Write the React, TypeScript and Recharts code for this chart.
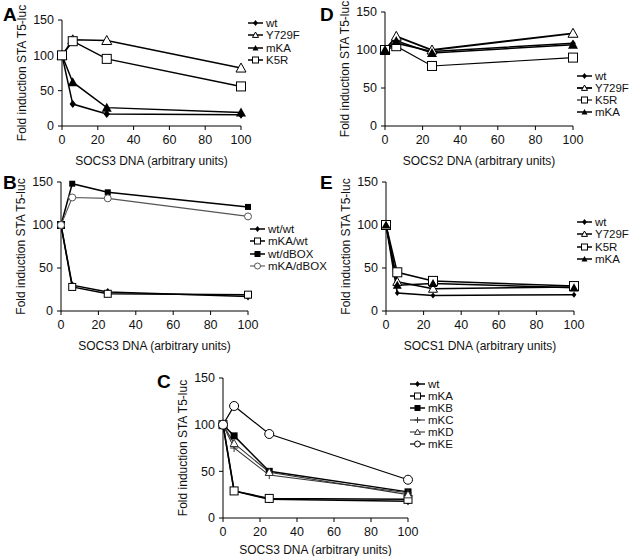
import React from 'react'
import { Line, LineChart, XAxis, YAxis } from 'recharts'

const doses = [0, 6, 25, 100]
const xTicks = [0, 20, 40, 60, 80, 100]
const yTicks = [0, 50, 100, 150]
const yTitle = 'Fold induction STA T5-luc'

// panel A: SOCS3
const aNames = ['wt', 'Y729F', 'mKA', 'K5R']
const aWt = [100, 31, 17, 16]
const aY729F = [100, 122, 121, 82]
const aMKA = [100, 62, 26, 19]
const aK5R = [100, 120, 95, 56]

// panel B: SOCS3, receptor mutants
const bNames = ['wt/wt', 'mKA/wt', 'wt/dBOX', 'mKA/dBOX']
const bWtWt = [100, 30, 22, 17]
const bMKAWt = [100, 28, 20, 19]
const bWtDbox = [100, 148, 138, 121]
const bMKADbox = [100, 132, 131, 110]

// panel C: SOCS3, lysine mutants
const cNames = ['wt', 'mKA', 'mKB', 'mKC', 'mKD', 'mKE']
const cWt = [100, 29, 20, 18]
const cMKA = [100, 29, 21, 20]
const cMKB = [100, 88, 50, 28]
const cMKC = [100, 75, 46, 27]
const cMKD = [100, 80, 49, 25]
const cMKE = [100, 120, 90, 41]

// panel D: SOCS2
const dNames = ['wt', 'Y729F', 'K5R', 'mKA']
const dWt = [100, 109, 98, 109]
const dY729F = [100, 118, 100, 122]
const dK5R = [100, 105, 79, 90]
const dMKA = [100, 112, 96, 107]

// panel E: SOCS1
const eNames = ['wt', 'Y729F', 'K5R', 'mKA']
const eWt = [100, 21, 18, 19]
const eY729F = [100, 34, 26, 28]
const eK5R = [100, 45, 35, 29]
const eMKA = [100, 30, 32, 27]

type Shape = 'diamond' | 'triOpen' | 'triFilled' | 'sqOpen' | 'sqFilled' | 'circOpen' | 'plus'

interface Series {
  name: string
  values: number[]
  shape: Shape
  size?: number
  color?: string
  width?: number
}

function Marker({ cx, cy, shape, size = 4, color = '#000' }: { cx: number; cy: number; shape: Shape; size?: number; color?: string }) {
  const s = size
  switch (shape) {
    case 'diamond':
      return <path d={`M${cx},${cy - s} L${cx + s * 0.8},${cy} L${cx},${cy + s} L${cx - s * 0.8},${cy} Z`} fill={color} />
    case 'triOpen':
      return <path d={`M${cx},${cy - s} L${cx + s},${cy + s * 0.8} L${cx - s},${cy + s * 0.8} Z`} fill="#fff" stroke={color} strokeWidth={1} />
    case 'triFilled':
      return <path d={`M${cx},${cy - s} L${cx + s},${cy + s * 0.8} L${cx - s},${cy + s * 0.8} Z`} fill={color} />
    case 'sqOpen':
      return <rect x={cx - s} y={cy - s} width={s * 2} height={s * 2} fill="#fff" stroke={color} strokeWidth={1} />
    case 'sqFilled':
      return <rect x={cx - s} y={cy - s} width={s * 2} height={s * 2} fill={color} />
    case 'circOpen':
      return <circle cx={cx} cy={cy} r={s} fill="#fff" stroke={color} strokeWidth={1} />
    case 'plus':
      return (
        <g stroke={color} strokeWidth={1}>
          <line x1={cx - s} y1={cy} x2={cx + s} y2={cy} />
          <line x1={cx} y1={cy - s} x2={cx} y2={cy + s} />
        </g>
      )
  }
  return null
}

interface PanelProps {
  letter: string
  xTitle: string
  series: Series[]
  plotLeft: number
  plotTop: number
  plotW: number
  plotH: number
  legendLeft: number
  legendTop: number
  legendGap?: number
  letterPos: [number, number]
  titleOffset?: number
}

const font = 'Arial, "Liberation Sans", Helvetica, sans-serif'

function Panel({ letter, xTitle, series, plotLeft, plotTop, plotW, plotH, legendLeft, legendTop, legendGap = 12.3, letterPos, titleOffset = 7 }: PanelProps) {
  const yw = 55
  const mt = 8
  const mr = 12
  const xh = 46
  const data = doses.map((d, i) => {
    const row: Record<string, number> = { dose: d }
    series.forEach((s) => {
      row[s.name] = s.values[i]
    })
    return row
  })
  return (
    <>
      <div style={{ position: 'absolute', left: letterPos[0], top: letterPos[1], fontFamily: font, fontWeight: 'bold', fontSize: 19, lineHeight: '19px' }}>
        {letter}
      </div>
      <div style={{ position: 'absolute', left: plotLeft - yw, top: plotTop - mt }}>
        <LineChart width={yw + plotW + mr} height={mt + plotH + xh} data={data} margin={{ top: mt, right: mr, left: 0, bottom: 0 }}>
          <XAxis
            dataKey="dose"
            type="number"
            domain={[0, 100]}
            ticks={xTicks}
            height={xh}
            tickSize={4}
            tickMargin={5}
            stroke="#000"
            tick={{ fill: '#111', fontSize: 12.5, fontFamily: font }}
            label={{ value: xTitle, position: 'insideBottom', offset: titleOffset, fill: '#111', fontSize: 12, fontFamily: font }}
          />
          <YAxis
            type="number"
            domain={[0, 150]}
            ticks={yTicks}
            width={yw}
            tickSize={4}
            tickMargin={4}
            stroke="#000"
            tick={{ fill: '#111', fontSize: 12.5, fontFamily: font }}
            label={{ value: yTitle, angle: -90, position: 'insideLeft', offset: 15, fill: '#111', fontSize: 12, fontFamily: font, style: { textAnchor: 'middle' } }}
          />
          {series.map((s) => (
            <Line
              key={s.name}
              dataKey={s.name}
              stroke={s.color ?? '#000'}
              strokeWidth={s.width ?? 1.5}
              isAnimationActive={false}
              dot={(p: any) => <Marker key={`${s.name}-${p.index}`} cx={p.cx} cy={p.cy} shape={s.shape} size={s.size} color={s.color ?? '#000'} />}
              activeDot={false}
            />
          ))}
        </LineChart>
      </div>
      {series.map((s, i) => (
        <div
          key={s.name}
          style={{ position: 'absolute', left: legendLeft, top: legendTop + i * legendGap - 6, height: 12, lineHeight: '12px', display: 'flex', alignItems: 'center', fontFamily: font, fontSize: 11.5, color: '#111', whiteSpace: 'nowrap' }}
        >
          <svg width={15} height={12}>
            <line x1={0} y1={6} x2={15} y2={6} stroke={s.color ?? '#000'} strokeWidth={s.width ?? 1.5} />
            <Marker cx={7.5} cy={6} shape={s.shape} size={Math.min(s.size ?? 4, 3)} color={s.color ?? '#000'} />
          </svg>
          <span style={{ marginLeft: 3 }}>{s.name}</span>
        </div>
      ))}
    </>
  )
}

export default function App() {
  const seriesA: Series[] = [
    { name: aNames[0], values: aWt, shape: 'diamond', size: 4 },
    { name: aNames[1], values: aY729F, shape: 'triOpen', size: 5 },
    { name: aNames[2], values: aMKA, shape: 'triFilled', size: 5 },
    { name: aNames[3], values: aK5R, shape: 'sqOpen', size: 4.5 },
  ]
  const seriesB: Series[] = [
    { name: bNames[0], values: bWtWt, shape: 'diamond', size: 4 },
    { name: bNames[1], values: bMKAWt, shape: 'sqOpen', size: 3.5 },
    { name: bNames[2], values: bWtDbox, shape: 'sqFilled', size: 3 },
    { name: bNames[3], values: bMKADbox, shape: 'circOpen', size: 3.5, color: '#555', width: 1.1 },
  ]
  const seriesC: Series[] = [
    { name: cNames[0], values: cWt, shape: 'diamond', size: 4 },
    { name: cNames[1], values: cMKA, shape: 'sqOpen', size: 4 },
    { name: cNames[2], values: cMKB, shape: 'sqFilled', size: 3.5 },
    { name: cNames[3], values: cMKC, shape: 'plus', size: 4, color: '#333', width: 1.1 },
    { name: cNames[4], values: cMKD, shape: 'triOpen', size: 4, color: '#333', width: 1.1 },
    { name: cNames[5], values: cMKE, shape: 'circOpen', size: 4.5, width: 1.2 },
  ]
  const seriesD: Series[] = [
    { name: dNames[0], values: dWt, shape: 'diamond', size: 3.5 },
    { name: dNames[1], values: dY729F, shape: 'triOpen', size: 5, width: 1.8 },
    { name: dNames[2], values: dK5R, shape: 'sqOpen', size: 4.5, width: 1.1 },
    { name: dNames[3], values: dMKA, shape: 'triFilled', size: 5 },
  ]
  const seriesE: Series[] = [
    { name: eNames[0], values: eWt, shape: 'diamond', size: 3 },
    { name: eNames[1], values: eY729F, shape: 'triOpen', size: 4.5 },
    { name: eNames[2], values: eK5R, shape: 'sqOpen', size: 4.5 },
    { name: eNames[3], values: eMKA, shape: 'triFilled', size: 4.5 },
  ]
  return (
    <div style={{ position: 'absolute', left: 0, top: 0, width: 631, height: 556, background: '#fff', overflow: 'hidden' }}>
      <style>{'.recharts-surface { overflow: visible; }'}</style>
      <Panel letter="A" xTitle="SOCS3 DNA (arbitrary units)" series={seriesA} plotLeft={62} plotTop={20} plotW={179} plotH={106} legendLeft={248} legendTop={23} legendGap={12.3} letterPos={[3, 5]} />
      <Panel letter="B" xTitle="SOCS3 DNA (arbitrary units)" series={seriesB} plotLeft={61} plotTop={182} plotW={187} plotH={129} legendLeft={250} legendTop={229} legendGap={12.3} letterPos={[3, 173]} />
      <Panel letter="C" xTitle="SOCS3 DNA (arbitrary units)" series={seriesC} plotLeft={223} plotTop={378} plotW={185} plotH={140} legendLeft={410} legendTop={384} legendGap={12} letterPos={[157, 372]} titleOffset={10} />
      <Panel letter="D" xTitle="SOCS2 DNA (arbitrary units)" series={seriesD} plotLeft={385} plotTop={12} plotW={188} plotH={114} legendLeft={577} legendTop={76} legendGap={12} letterPos={[320, 5]} />
      <Panel letter="E" xTitle="SOCS1 DNA (arbitrary units)" series={seriesE} plotLeft={386} plotTop={182} plotW={188} plotH={129} legendLeft={577} legendTop={222} legendGap={12.4} letterPos={[320, 173]} />
    </div>
  )
}
